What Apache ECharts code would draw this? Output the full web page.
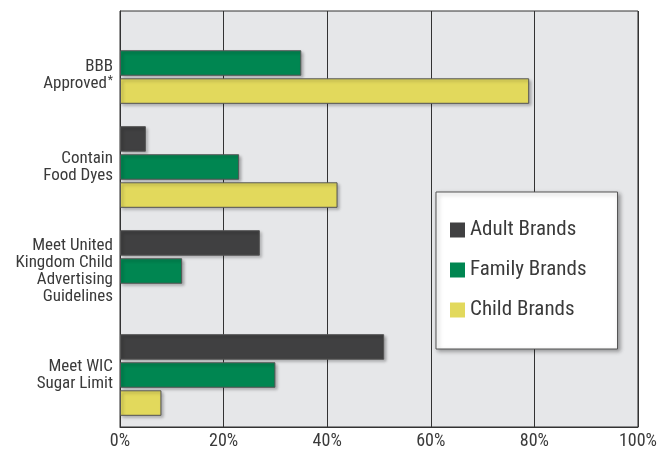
<!DOCTYPE html>
<html>
<head>
<meta charset="utf-8">
<script src="https://cdn.jsdelivr.net/npm/echarts@6/dist/echarts.min.js"></script>
<style>
  html, body { margin: 0; padding: 0; background: #fff; }
  #chart { width: 660px; height: 450px; }
</style>
</head>
<body>
<div id="chart"></div>
<script>
// Brand-category shares for each marketing measure (percent)
const categories = [
  'BBB\nApproved*',
  'Contain\nFood Dyes',
  'Meet United\nKingdom Child\nAdvertising\nGuidelines',
  'Meet WIC\nSugar Limit'
];
const seriesNames = ['Adult Brands', 'Family Brands', 'Child Brands'];
const adultBrands = [0, 5, 27, 51];
const familyBrands = [35, 23, 12, 30];
const childBrands = [79, 42, 0, 8];
const percentTicks = [0, 20, 40, 60, 80, 100];

const FONT = '"Roboto Condensed", "Liberation Sans Narrow", "Arial Narrow", "DejaVu Sans Condensed", sans-serif';
const TEXT = '#3a3a3a';
const colors = ['#404041', '#008651', '#e2d95c'];

const barStyle = (c) => ({
  color: c,
  borderColor: '#555',
  borderWidth: 1,
  shadowColor: 'rgba(0,0,0,0.3)',
  shadowBlur: 3,
  shadowOffsetX: 2,
  shadowOffsetY: 2
});

// zero-length bars carry no outline or shadow
const toData = (arr) => arr.map(v => v === 0
  ? { value: v, itemStyle: { borderWidth: 0, shadowBlur: 0, shadowOffsetX: 0, shadowOffsetY: 0 } }
  : v);

const chart = echarts.init(document.getElementById('chart'), null, { renderer: 'canvas' });

function catLabel(value) {
  const lines = value.split('\n').map(l => {
    if (l.endsWith('*')) return '{n|' + l.slice(0, -1) + '}{sup|*}';
    return '{n|' + l + '}';
  });
  // first label sits a little lower in its band
  if (value.startsWith('BBB')) lines.unshift('{gap| }');
  return lines.join('\n');
}

chart.setOption({
  animation: false,
  textStyle: { fontFamily: FONT },
  grid: {
    left: 120, right: 19, top: 11, bottom: 22,
    show: true,
    backgroundColor: '#e6e7e9',
    borderColor: '#333',
    borderWidth: 1
  },
  legend: {
    orient: 'vertical',
    left: 436,
    top: 192,
    data: seriesNames,
    icon: 'rect',
    itemWidth: 15,
    itemHeight: 15,
    itemGap: 18,
    padding: [27, 31, 28, 14],
    backgroundColor: '#fff',
    borderColor: '#555',
    borderWidth: 1,
    shadowColor: 'rgba(0,0,0,0.35)',
    shadowBlur: 4,
    shadowOffsetX: 2,
    shadowOffsetY: 2,
    itemStyle: { borderWidth: 0, shadowBlur: 0, shadowOffsetX: 0, shadowOffsetY: 0 },
    textStyle: { fontFamily: FONT, fontSize: 21, lineHeight: 22, color: TEXT }
  },
  xAxis: {
    type: 'value',
    min: percentTicks[0],
    max: percentTicks[percentTicks.length - 1],
    interval: percentTicks[1] - percentTicks[0],
    axisLine: { show: true, lineStyle: { color: '#333', width: 1 } },
    axisTick: { show: false },
    splitLine: { show: true, lineStyle: { color: '#333', width: 1 } },
    axisLabel: {
      formatter: '{value}%',
      fontFamily: FONT,
      fontSize: 18,
      color: TEXT,
      margin: 5
    }
  },
  yAxis: {
    type: 'category',
    inverse: true,
    data: categories,
    axisLine: { show: true, lineStyle: { color: '#333', width: 1 } },
    axisTick: { show: false },
    axisLabel: {
      margin: 7,
      formatter: catLabel,
      rich: {
        n: { fontFamily: FONT, fontSize: 17, lineHeight: 17, color: TEXT, align: 'right' },
        sup: { fontFamily: FONT, fontSize: 12, lineHeight: 17, color: TEXT, verticalAlign: 'top', padding: [0, 0, 4, 1] },
        gap: { fontSize: 10, lineHeight: 24 }
      }
    }
  },
  series: [
    { name: seriesNames[0], type: 'bar', data: toData(adultBrands), itemStyle: barStyle(colors[0]),
      barGap: '10%', barCategoryGap: '21.5%' },
    { name: seriesNames[1], type: 'bar', data: toData(familyBrands), itemStyle: barStyle(colors[1]),
      barGap: '10%', barCategoryGap: '21.5%' },
    { name: seriesNames[2], type: 'bar', data: toData(childBrands), itemStyle: barStyle(colors[2]),
      barGap: '10%', barCategoryGap: '21.5%' }
  ]
});
</script>
</body>
</html>
